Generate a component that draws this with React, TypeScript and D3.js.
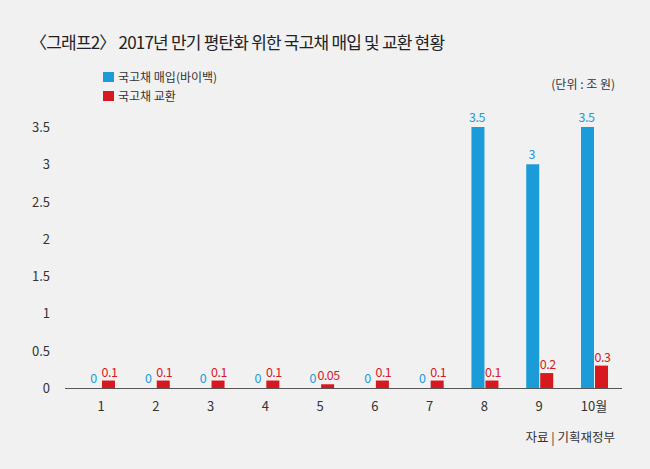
import React from "react";
import * as d3 from "d3";

const categories = ["1", "2", "3", "4", "5", "6", "7", "8", "9", "10월"];
const buyback = [0, 0, 0, 0, 0, 0, 0, 3.5, 3, 3.5];
const exchange = [0.1, 0.1, 0.1, 0.1, 0.05, 0.1, 0.1, 0.1, 0.2, 0.3];
const yTicks = [0, 0.5, 1, 1.5, 2, 2.5, 3, 3.5];

const BLUE = "#1b9bd7";
const RED = "#d7191f";
const FONT = "'Noto Sans CJK KR', 'Noto Sans', sans-serif";

export default function App() {
  const W = 650, H = 469;
  const x = d3.scaleBand<string>().domain(categories).range([73.6, 621.4]);
  const y = d3.scaleLinear().domain([0, 3.5]).range([388, 127]);
  const bw = 13;

  return (
    <svg width={W} height={H} style={{ position: "absolute", left: 0, top: 0, fontFamily: FONT }}>
      <rect width={W} height={H} fill="#f1f1f1" />
      <text x={30} y={49} fontSize={17} fill="#222" letterSpacing={-0.8}>〈그래프2〉 2017년 만기 평탄화 위한 국고채 매입 및 교환 현황</text>
      <rect x={103} y={72} width={11} height={10} fill={BLUE} />
      <text x={118} y={82} fontSize={12} fill="#333">국고채 매입(바이백)</text>
      <rect x={103} y={91} width={11} height={10} fill={RED} />
      <text x={118} y={101} fontSize={12} fill="#333">국고채 교환</text>
      <text x={615} y={89} fontSize={12} fill="#333" textAnchor="end">(단위 : 조 원)</text>

      {yTicks.map(t => (
        <text key={t} x={50} y={y(t) + 5} fontSize={13} fill="#333" textAnchor="end">{t}</text>
      ))}
      <line x1={65} x2={622} y1={388.5} y2={388.5} stroke="#555" strokeWidth={1} />

      {categories.map((c, i) => {
        const cx = (x(c) as number) + x.bandwidth() / 2;
        return (
          <g key={c}>
            <rect x={cx - bw} y={y(buyback[i])} width={bw} height={388 - y(buyback[i])} fill={BLUE} />
            <rect x={cx + 1} y={y(exchange[i])} width={bw} height={388 - y(exchange[i])} fill={RED} />
            <text x={cx - bw / 2 - 1} y={y(buyback[i]) - 5} fontSize={12.5} fill={BLUE} textAnchor="middle" letterSpacing={-0.5}>{buyback[i]}</text>
            <text x={cx + bw / 2 + 2} y={y(exchange[i]) - 4} fontSize={12.5} fill={RED} textAnchor="middle" letterSpacing={-0.5}>{exchange[i]}</text>
            <text x={cx} y={411} fontSize={13} fill="#333" textAnchor="middle">{c}</text>
          </g>
        );
      })}

      <text x={615} y={442} fontSize={12.5} fill="#333" textAnchor="end">자료 | 기획재정부</text>
    </svg>
  );
}
